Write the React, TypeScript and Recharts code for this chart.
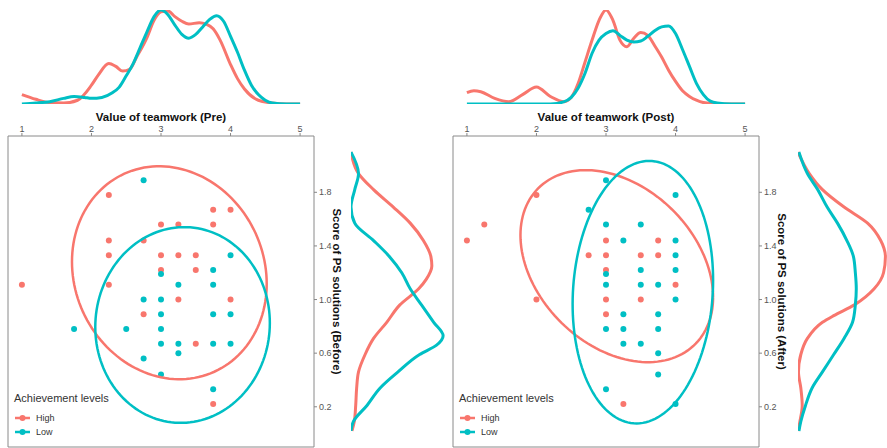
import React from 'react';
import { ScatterChart, Scatter, LineChart, Line, ComposedChart, XAxis, YAxis, ReferenceArea, Legend } from 'recharts';

const HIGH = '#F8766D';
const LOW = '#00BFC4';
const FONT = '"Liberation Sans", Arial, sans-serif';

const teamTicks = [1, 2, 3, 4, 5];
const scoreTicks = [0.2, 0.6, 1.0, 1.4, 1.8];
const levels = ['High', 'Low'];
const levelColors = [HIGH, LOW];

// scatter points: [value of teamwork, score of PS solutions]
const preHigh = [
  [2.25, 1.78], [3.75, 1.67], [4.0, 1.67], [3.0, 1.56], [3.25, 1.56], [3.75, 1.56],
  [2.25, 1.44], [2.75, 1.44], [2.25, 1.33], [3.0, 1.33], [3.25, 1.33], [3.5, 1.33],
  [3.0, 1.22], [3.5, 1.22], [1.0, 1.11], [2.25, 1.11], [3.25, 1.0], [4.0, 1.0],
  [2.75, 0.89], [3.5, 0.67], [3.75, 0.22],
];
const preLow = [
  [2.75, 1.89], [4.0, 1.33], [3.0, 1.19], [3.75, 1.22], [3.25, 1.11], [3.75, 1.11],
  [2.75, 1.0], [3.0, 1.0], [3.0, 0.89], [3.75, 0.89], [4.0, 0.89],
  [1.75, 0.78], [2.5, 0.78], [3.0, 0.78], [3.0, 0.67], [3.25, 0.67], [3.75, 0.67], [4.0, 0.67],
  [3.25, 0.6], [2.75, 0.56], [3.0, 0.44], [3.75, 0.33],
];
const postHigh = [
  [2.0, 1.78], [1.25, 1.56], [1.0, 1.44], [3.0, 1.44], [3.75, 1.44],
  [2.75, 1.33], [3.0, 1.33], [3.5, 1.33], [3.75, 1.33], [3.0, 1.22], [4.0, 1.11],
  [2.0, 1.0], [3.0, 1.0], [3.5, 1.0], [3.0, 0.89], [3.25, 0.22],
];
const postLow = [
  [3.0, 1.89], [4.0, 1.78], [2.75, 1.67], [3.0, 1.56], [3.5, 1.56], [3.25, 1.44], [4.0, 1.44],
  [4.0, 1.33], [3.0, 1.19], [3.5, 1.22], [4.0, 1.22], [3.0, 1.11], [3.5, 1.11], [3.75, 1.11],
  [4.0, 1.0], [3.25, 0.89], [3.75, 0.89], [3.0, 0.78], [3.25, 0.78], [3.75, 0.78],
  [3.25, 0.67], [3.5, 0.67], [3.75, 0.6], [3.75, 0.44], [3.0, 0.33], [4.0, 0.22],
];

// top marginal densities: [teamwork, density]
const preTopHigh = [
  [1.0, 0.1], [1.2, 0.05], [1.4, 0.015], [1.6, 0.01], [1.8, 0.04], [2.0, 0.2], [2.1, 0.31],
  [2.25, 0.43], [2.35, 0.4], [2.45, 0.35], [2.55, 0.37], [2.65, 0.5], [2.8, 0.71], [2.9, 0.89],
  [3.0, 0.98], [3.1, 0.99], [3.2, 0.93], [3.3, 0.88], [3.4, 0.85], [3.55, 0.865], [3.65, 0.85],
  [3.75, 0.8], [3.85, 0.68], [4.0, 0.42], [4.1, 0.27], [4.2, 0.16], [4.4, 0.04], [4.6, 0.01],
  [4.8, 0], [5.0, 0],
];
const preTopLow = [
  [1.0, 0], [1.2, 0.01], [1.4, 0.025], [1.6, 0.06], [1.75, 0.08], [1.9, 0.07], [2.0, 0.06],
  [2.15, 0.07], [2.3, 0.12], [2.4, 0.18], [2.5, 0.3], [2.6, 0.43], [2.7, 0.6], [2.8, 0.77],
  [2.9, 0.93], [3.0, 1.0], [3.1, 0.95], [3.2, 0.84], [3.3, 0.74], [3.4, 0.7], [3.5, 0.74],
  [3.6, 0.82], [3.7, 0.9], [3.8, 0.94], [3.9, 0.88], [4.0, 0.72], [4.1, 0.55], [4.2, 0.36],
  [4.3, 0.2], [4.4, 0.1], [4.5, 0.04], [4.6, 0.01], [4.8, 0], [5.0, 0],
];
const postTopHigh = [
  [1.0, 0.12], [1.1, 0.14], [1.2, 0.13], [1.4, 0.06], [1.6, 0.025], [1.8, 0.1], [2.0, 0.18],
  [2.2, 0.08], [2.4, 0.025], [2.5, 0.07], [2.6, 0.22], [2.7, 0.45], [2.8, 0.68], [2.9, 0.89],
  [3.0, 1.0], [3.1, 0.89], [3.2, 0.68], [3.3, 0.61], [3.4, 0.7], [3.5, 0.76], [3.6, 0.73],
  [3.7, 0.62], [3.8, 0.5], [3.9, 0.36], [4.0, 0.24], [4.1, 0.14], [4.2, 0.08], [4.3, 0.04],
  [4.4, 0.015], [4.6, 0], [5.0, 0],
];
const postTopLow = [
  [1.0, 0], [2.2, 0], [2.4, 0.025], [2.5, 0.07], [2.6, 0.17], [2.7, 0.33], [2.8, 0.54],
  [2.9, 0.68], [3.0, 0.75], [3.1, 0.78], [3.2, 0.73], [3.3, 0.68], [3.4, 0.66], [3.5, 0.67],
  [3.6, 0.72], [3.7, 0.78], [3.8, 0.82], [3.9, 0.83], [4.0, 0.75], [4.1, 0.58], [4.2, 0.4],
  [4.3, 0.22], [4.4, 0.1], [4.5, 0.03], [4.6, 0.01], [4.8, 0], [5.0, 0],
];

// right marginal densities: [score, density]
const preSideHigh = [
  [2.1, 0], [1.94, 0.08], [1.82, 0.24], [1.69, 0.45], [1.57, 0.63], [1.44, 0.77], [1.32, 0.85],
  [1.25, 0.86], [1.15, 0.8], [1.08, 0.72], [0.96, 0.52], [0.83, 0.38], [0.71, 0.24], [0.59, 0.15],
  [0.46, 0.08], [0.34, 0.06], [0.21, 0.05], [0.09, 0.035], [0.02, 0.01],
];
const preSideLow = [
  [2.1, 0], [1.94, 0.08], [1.82, 0.04], [1.69, 0.0], [1.57, 0.04], [1.44, 0.24], [1.32, 0.41],
  [1.2, 0.54], [1.08, 0.63], [0.96, 0.75], [0.83, 0.88], [0.73, 0.98], [0.66, 0.91], [0.59, 0.73],
  [0.46, 0.5], [0.34, 0.31], [0.21, 0.17], [0.09, 0.025], [0.02, 0],
];
const postSideHigh = [
  [2.1, 0], [1.94, 0.12], [1.82, 0.26], [1.69, 0.49], [1.57, 0.74], [1.44, 0.88], [1.32, 0.93],
  [1.2, 0.91], [1.08, 0.81], [0.96, 0.6], [0.88, 0.38], [0.83, 0.26], [0.71, 0.1], [0.59, 0.03],
  [0.46, 0.005], [0.34, 0.03], [0.21, 0.045], [0.09, 0.02], [0.02, 0],
];
const postSideLow = [
  [2.1, 0.01], [1.94, 0.1], [1.82, 0.21], [1.69, 0.31], [1.57, 0.42], [1.44, 0.52], [1.32, 0.59],
  [1.2, 0.61], [1.08, 0.62], [0.96, 0.61], [0.83, 0.58], [0.71, 0.49], [0.59, 0.38], [0.46, 0.26],
  [0.34, 0.15], [0.21, 0.08], [0.09, 0.03], [0.02, 0.01],
];

// 95% ellipses: [centre x, centre y, half width, half height, tilt]
const preHighEllipse = [3.12, 1.2, 1.4, 0.79, -0.082];
const preLowEllipse = [3.31, 0.81, 1.255, 0.73, 0.015];
const postHighEllipse = [3.155, 1.249, 1.385, 0.678, -0.231];
const postLowEllipse = [3.53, 1.055, 1.01, 0.975, 0.089];

const toXY = (pts: number[][]) => pts.map(([x, y]) => ({ x, y }));
const toSV = (pts: number[][]) => pts.map(([s, v]) => ({ s, v }));

const outline = ([cx, cy, rx, ry, k]: number[]) =>
  Array.from({ length: 145 }, (_, i) => {
    const t = (i / 144) * 2 * Math.PI;
    return { x: cx + rx * Math.cos(t), y: cy + ry * Math.sin(t) + k * Math.cos(t) };
  });

const X_DOMAIN = [0.8, 5.2];
const Y_DOMAIN = [-0.1, 2.22];

const noDot = () => <g />;
const dot = (props: any) => <circle cx={props.cx} cy={props.cy} r={3} fill={props.fill} />;

const LegendBox = () => (
  <div style={{ fontFamily: FONT, color: '#333', lineHeight: 1 }}>
    <div style={{ fontSize: 11, marginBottom: 7 }}>Achievement levels</div>
    {levels.map((l, i) => (
      <div key={l} style={{ display: 'flex', alignItems: 'center', height: 14, fontSize: 9 }}>
        <svg width={18} height={10}>
          <line x1={1} x2={16} y1={5} y2={5} stroke={levelColors[i]} strokeWidth={2.5} />
          <circle cx={8.5} cy={5} r={3} fill={levelColors[i]} />
        </svg>
        <span style={{ marginLeft: 4 }}>{l}</span>
      </div>
    ))}
  </div>
);

interface PanelProps {
  ox: number;
  sideX: number;
  xTitle: string;
  yTitle: string;
  high: number[][];
  low: number[][];
  topHigh: number[][];
  topLow: number[][];
  sideHigh: number[][];
  sideLow: number[][];
  highEllipse: number[];
  lowEllipse: number[];
}

const Panel: React.FC<PanelProps> = (p) => {
  const tickStyle = { fontSize: 9, fill: '#555', fontFamily: FONT };
  return (
    <>
      <div style={{ position: 'absolute', left: p.ox, top: 0 }}>
        <LineChart width={322} height={110} margin={{ top: 10, right: 8, bottom: 6, left: 8 }}>
          <XAxis type="number" dataKey="x" domain={X_DOMAIN} hide allowDataOverflow />
          <YAxis type="number" domain={[0, 1]} hide allowDataOverflow />
          <Line data={toXY(p.topHigh)} dataKey="y" type="monotone" stroke={HIGH} strokeWidth={3} dot={false} isAnimationActive={false} />
          <Line data={toXY(p.topLow)} dataKey="y" type="monotone" stroke={LOW} strokeWidth={3} dot={false} isAnimationActive={false} />
        </LineChart>
      </div>

      <div style={{ position: 'absolute', left: p.sideX - 6, top: 100 }}>
        <ComposedChart layout="vertical" width={110} height={348} margin={{ top: 36, right: 10, bottom: 1, left: 6 }}>
          <XAxis type="number" domain={[0, 1]} hide allowDataOverflow />
          <YAxis type="number" dataKey="s" domain={Y_DOMAIN} hide reversed allowDataOverflow />
          <Line data={toSV(p.sideHigh)} dataKey="v" type="monotone" stroke={HIGH} strokeWidth={3} dot={false} isAnimationActive={false} />
          <Line data={toSV(p.sideLow)} dataKey="v" type="monotone" stroke={LOW} strokeWidth={3} dot={false} isAnimationActive={false} />
        </ComposedChart>
      </div>

      <div style={{ position: 'absolute', left: p.ox, top: 100 }}>
        <ScatterChart width={352} height={348} margin={{ top: 0, right: 0, bottom: 1, left: 8 }}>
          <XAxis
            type="number"
            dataKey="x"
            orientation="top"
            domain={X_DOMAIN}
            ticks={teamTicks}
            height={36}
            axisLine={false}
            tickSize={3}
            tickMargin={1}
            tickLine={{ stroke: '#888' }}
            tick={tickStyle}
            allowDataOverflow
            label={{ value: p.xTitle, position: 'center', dy: -1, fontSize: 11.5, fontWeight: 'bold', fill: '#111', fontFamily: FONT }}
          />
          <YAxis
            type="number"
            dataKey="y"
            orientation="right"
            domain={Y_DOMAIN}
            ticks={scoreTicks}
            width={38}
            axisLine={false}
            tickSize={3}
            tickMargin={2}
            tickLine={{ stroke: '#888' }}
            tick={tickStyle}
            tickFormatter={(v: number) => v.toFixed(1)}
            allowDataOverflow
            label={{ value: p.yTitle, position: 'center', angle: 90, dx: 4, fontSize: 11.5, fontWeight: 'bold', fill: '#111', fontFamily: FONT }}
          />
          <ReferenceArea x1={X_DOMAIN[0]} x2={X_DOMAIN[1]} y1={Y_DOMAIN[0]} y2={Y_DOMAIN[1]} fill="none" stroke="#8a8a8a" strokeWidth={1} />
          <Scatter data={toXY(p.high)} fill={HIGH} shape={dot} isAnimationActive={false} legendType="none" />
          <Scatter data={toXY(p.low)} fill={LOW} shape={dot} isAnimationActive={false} legendType="none" />
          <Scatter data={outline(p.highEllipse)} line={{ stroke: HIGH, strokeWidth: 2.5 }} lineType="joint" shape={noDot} isAnimationActive={false} legendType="none" />
          <Scatter data={outline(p.lowEllipse)} line={{ stroke: LOW, strokeWidth: 2.5 }} lineType="joint" shape={noDot} isAnimationActive={false} legendType="none" />
          <Legend
            layout="horizontal"
            verticalAlign="middle"
            align="center"
            content={LegendBox}
            wrapperStyle={{ left: 14, top: 293, width: 120 }}
          />
        </ScatterChart>
      </div>
    </>
  );
};

export default function App() {
  return (
    <div style={{ position: 'absolute', left: 0, top: 0, width: 887, height: 448, overflow: 'hidden', background: '#fff', fontFamily: FONT }}>
      <Panel
        ox={0}
        sideX={351}
        xTitle="Value of teamwork (Pre)"
        yTitle="Score of PS solutions (Before)"
        high={preHigh}
        low={preLow}
        topHigh={preTopHigh}
        topLow={preTopLow}
        sideHigh={preSideHigh}
        sideLow={preSideLow}
        highEllipse={preHighEllipse}
        lowEllipse={preLowEllipse}
      />
      <Panel
        ox={445}
        sideX={798}
        xTitle="Value of teamwork (Post)"
        yTitle="Score of PS solutions (After)"
        high={postHigh}
        low={postLow}
        topHigh={postTopHigh}
        topLow={postTopLow}
        sideHigh={postSideHigh}
        sideLow={postSideLow}
        highEllipse={postHighEllipse}
        lowEllipse={postLowEllipse}
      />
    </div>
  );
}
